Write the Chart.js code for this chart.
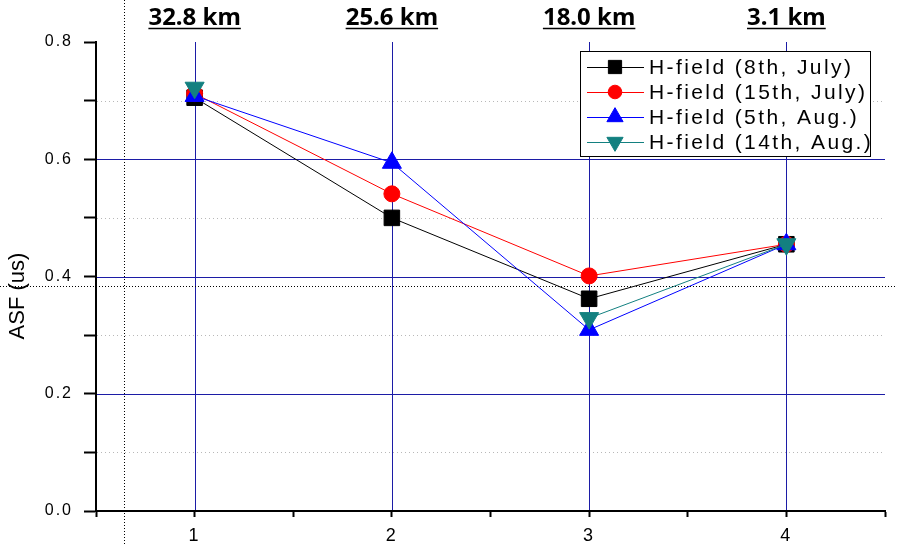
<!DOCTYPE html>
<html>
<head>
<meta charset="utf-8">
<title>ASF (us)</title>
<script src="https://cdn.jsdelivr.net/npm/chart.js@4.4.1/dist/chart.umd.min.js"></script>
<style>
  html, body { margin: 0; padding: 0; background: #fff; }
  #wrap { width: 897px; height: 546px; }
</style>
</head>
<body>
<div id="wrap"><canvas id="asfChart" width="897" height="546"></canvas></div>
<script>
// x positions and the distance written above each one
const positions = [1, 2, 3, 4];
const distances = ["32.8 km", "25.6 km", "18.0 km", "3.1 km"];

// ASF values (us)
const july8 = [0.705, 0.500, 0.362, 0.455];
const july15 = [0.712, 0.541, 0.401, 0.455];
const aug5 = [0.708, 0.594, 0.309, 0.455];
const aug14 = [0.722, null, 0.329, 0.455];

const seriesLabels = ["H-field (8th, July)", "H-field (15th, July)", "H-field (5th, Aug.)", "H-field (14th, Aug.)"];
const yTickLabels = ["0.0", "0.2", "0.4", "0.6", "0.8"];
const yTitle = "ASF (us)";

// cursor crosshair left on the original plot (data units)
const cursorAt = [0.64, 0.384];

const GRID = "#1c1ca6";
const MINOR = "#b8b8b8";
const FONT = "'Liberation Sans', Arial, sans-serif";

function toPoints(values) {
  return positions.map((x, i) => ({ x, y: values[i] }));
}

function tenth(v) {
  return Math.round(v * 10);
}

function drawMarker(ctx, ds, x, y, radius) {
  ctx.save();
  ctx.fillStyle = ds.backgroundColor;
  ctx.strokeStyle = ds.borderColor;
  ctx.lineWidth = 1;
  if (Chart.helpers && Chart.helpers.drawPoint) {
    Chart.helpers.drawPoint(ctx, { pointStyle: ds.pointStyle, rotation: ds.pointRotation || 0, radius, borderWidth: 1 }, x, y);
  } else {
    ctx.beginPath();
    ctx.arc(x, y, radius * 0.7, 0, Math.PI * 2);
    ctx.fill();
  }
  ctx.restore();
}

// grid lines drawn from the scales' own ticks
const gridLines = {
  id: "gridLines",
  beforeDatasetsDraw(chart) {
    const { ctx, chartArea: area, scales } = chart;
    ctx.save();
    ctx.lineWidth = 1;
    scales.y.ticks.forEach((t) => {
      const n = tenth(t.value);
      if (n === 0 || n === 8) return;
      const y = Math.round(scales.y.getPixelForValue(t.value)) + 0.5;
      ctx.strokeStyle = n % 2 === 0 ? GRID : MINOR;
      ctx.setLineDash(n % 2 === 0 ? [] : [1, 3]);
      ctx.beginPath();
      ctx.moveTo(area.left + 1, y);
      ctx.lineTo(area.right, y);
      ctx.stroke();
    });
    ctx.setLineDash([]);
    ctx.strokeStyle = GRID;
    scales.x.ticks.forEach((t) => {
      if (!Number.isInteger(t.value)) return;
      const x = Math.round(scales.x.getPixelForValue(t.value)) + 0.5;
      ctx.beginPath();
      ctx.moveTo(x, area.top);
      ctx.lineTo(x, area.bottom - 1);
      ctx.stroke();
    });
    ctx.restore();
  },
};

const decorations = {
  id: "decorations",
  beforeDraw(chart) {
    chart.ctx.letterSpacing = "2px";
  },
  afterDraw(chart) {
    const { ctx, chartArea: area, scales } = chart;
    ctx.save();
    ctx.letterSpacing = "0px";

    // distance labels on top, bold and underlined
    ctx.font = "bold 24px 'Noto Sans', sans-serif";
    ctx.fillStyle = "#000";
    ctx.strokeStyle = "#000";
    ctx.textAlign = "center";
    ctx.textBaseline = "alphabetic";
    ctx.lineWidth = 1.5;
    distances.forEach((label, i) => {
      const cx = scales.x.getPixelForValue(positions[i]);
      const w = ctx.measureText(label).width;
      ctx.fillText(label, cx, 25);
      ctx.beginPath();
      ctx.moveTo(cx - w / 2, 28.5);
      ctx.lineTo(cx + w / 2, 28.5);
      ctx.stroke();
    });

    // y title
    ctx.save();
    ctx.translate(18, 296);
    ctx.rotate(-Math.PI / 2);
    ctx.font = "22px " + FONT;
    ctx.textAlign = "center";
    ctx.textBaseline = "middle";
    ctx.fillText(yTitle, 0, 0);
    ctx.restore();

    // crosshair
    ctx.save();
    ctx.strokeStyle = "#000";
    ctx.lineWidth = 1;
    ctx.setLineDash([1, 2]);
    const cx = Math.round(scales.x.getPixelForValue(cursorAt[0])) + 0.5;
    const cy = Math.round(scales.y.getPixelForValue(cursorAt[1])) + 0.5;
    ctx.beginPath();
    ctx.moveTo(cx, 0);
    ctx.lineTo(cx, chart.height);
    ctx.moveTo(0, cy);
    ctx.lineTo(chart.width, cy);
    ctx.stroke();
    ctx.restore();

    // legend box
    const left = area.right - 305;
    const top = area.top + 9;
    const width = 290;
    const height = 105;
    ctx.fillStyle = "#fff";
    ctx.fillRect(left, top, width, height);
    ctx.strokeStyle = "#000";
    ctx.lineWidth = 1;
    ctx.strokeRect(left + 0.5, top + 0.5, width, height);
    ctx.font = "21px " + FONT;
    ctx.letterSpacing = "2.4px";
    ctx.textAlign = "left";
    ctx.textBaseline = "middle";
    chart.data.datasets.forEach((ds, i) => {
      const y = top + 16 + i * 25;
      ctx.strokeStyle = ds.borderColor;
      ctx.beginPath();
      ctx.moveTo(left + 7, Math.round(y) + 0.5);
      ctx.lineTo(left + 64, Math.round(y) + 0.5);
      ctx.stroke();
      drawMarker(ctx, ds, left + 35, y, ds.pointRadius * 0.85);
      ctx.fillStyle = "#000";
      ctx.fillText(ds.label, left + 69, y + 1);
    });
    ctx.restore();
  },
};

function series(i, values, color, style, radius, extra) {
  return Object.assign({
    label: seriesLabels[i],
    data: toPoints(values),
    borderColor: color,
    backgroundColor: color,
    borderWidth: 1,
    pointStyle: style,
    pointRadius: radius,
    pointHoverRadius: radius,
    pointBorderWidth: 1,
    spanGaps: false,
    tension: 0,
    order: 4 - i,
  }, extra || {});
}

new Chart(document.getElementById("asfChart"), {
  type: "line",
  data: {
    datasets: [
      series(0, july8, "#000000", "rect", 11),
      series(1, july15, "#ff0000", "circle", 8),
      series(2, aug5, "#0000ff", "triangle", 11),
      series(3, aug14, "#138080", "triangle", 11, { pointRotation: 180 }),
    ],
  },
  options: {
    responsive: false,
    animation: false,
    events: [],
    layout: { padding: { top: 42, right: 9, left: 0, bottom: 0 } },
    plugins: { legend: { display: false }, tooltip: { enabled: false } },
    scales: {
      x: {
        type: "linear",
        min: 0.5,
        max: 4.5,
        afterFit(scale) { scale.height = 35; },
        ticks: {
          stepSize: 0.5,
          autoSkip: false,
          maxRotation: 0,
          padding: 8,
          color: "#000",
          font: { family: FONT, size: 18 },
          callback: (v) => (Number.isInteger(v) ? String(v) : ""),
        },
        grid: {
          drawOnChartArea: false,
          tickColor: "#000",
          tickLength: 6,
          tickWidth: 2,
        },
        border: { color: "#000", width: 2 },
      },
      y: {
        min: 0,
        max: 0.8,
        afterFit(scale) { scale.width = 96; },
        ticks: {
          stepSize: 0.1,
          autoSkip: false,
          padding: 11,
          color: "#000",
          font: { family: FONT, size: 16 },
          callback: (v) => {
            const n = tenth(v);
            return n % 2 === 0 ? yTickLabels[n / 2] : "";
          },
        },
        grid: {
          drawOnChartArea: false,
          tickColor: "#000",
          tickLength: 12,
          tickWidth: 2,
        },
        border: { color: "#000", width: 2 },
      },
    },
  },
  plugins: [gridLines, decorations],
});
</script>
</body>
</html>
